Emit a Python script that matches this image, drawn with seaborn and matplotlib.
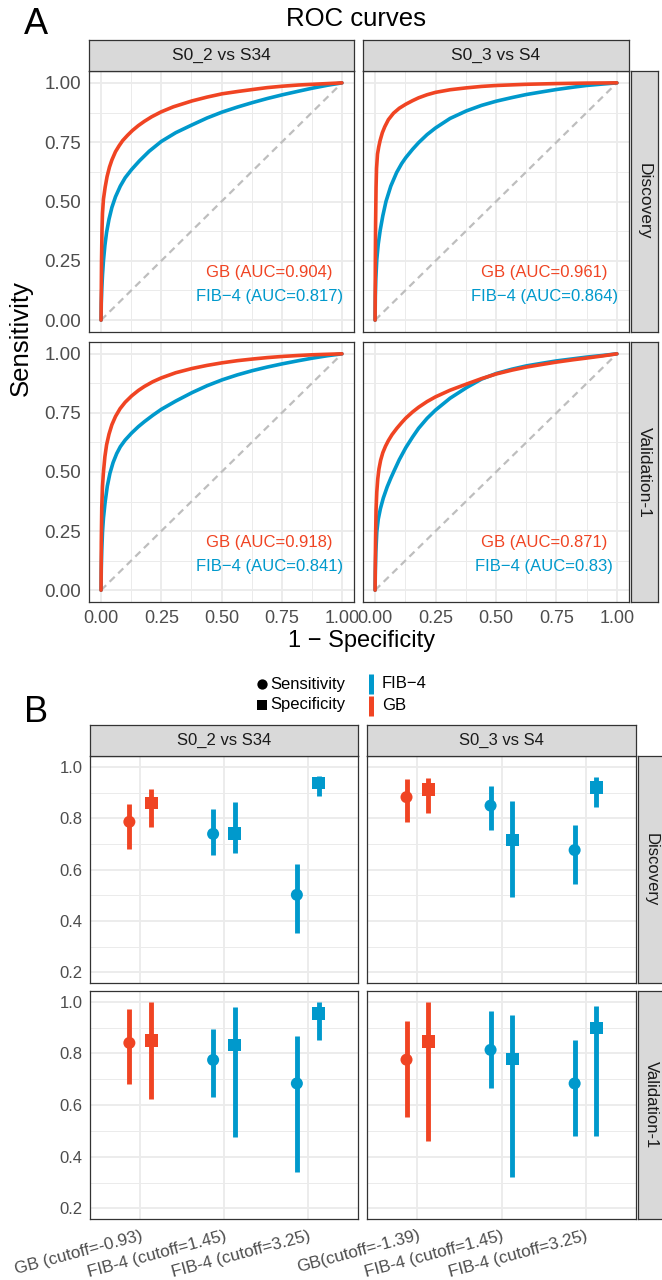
import numpy as np
import pandas as pd
import matplotlib
matplotlib.use("Agg")
import matplotlib.pyplot as plt
import seaborn as sns
from matplotlib.ticker import MultipleLocator, FixedLocator

sns.set_theme(style="white")
plt.rcParams['font.family'] = ['Liberation Sans', 'DejaVu Sans']

W, H = 662, 1280
RED = '#F04423'
BLUE = '#0099CC'
GRID = '#EBEBEB'
DARK = '#333333'
TICKC = '#4D4D4D'
STRIP = '#D9D9D9'

comparisons = ['S0_2 vs S34', 'S0_3 vs S4']
cohorts = ['Discovery', 'Validation-1']

# ---------------- Panel A: ROC curves ----------------
tl_gb_fpr = [0, 0.002, 0.004, 0.006, 0.01, 0.017, 0.025, 0.035, 0.045, 0.06, 0.075, 0.09, 0.11, 0.13, 0.155, 0.18, 0.21, 0.25, 0.3, 0.378, 0.44, 0.503, 0.57, 0.629, 0.69, 0.754, 0.82, 0.879, 0.94, 1.0]
tl_gb_tpr = [0, 0.25, 0.38, 0.45, 0.51, 0.56, 0.605, 0.645, 0.675, 0.71, 0.735, 0.757, 0.779, 0.799, 0.82, 0.838, 0.857, 0.878, 0.899, 0.924, 0.940, 0.954, 0.964, 0.972, 0.980, 0.986, 0.991, 0.994, 0.997, 1.0]
tl_fib_fpr = [0, 0.001, 0.003, 0.006, 0.01, 0.016, 0.023, 0.033, 0.045, 0.06, 0.08, 0.1, 0.127, 0.16, 0.2, 0.25, 0.31, 0.378, 0.44, 0.503, 0.566, 0.629, 0.69, 0.754, 0.82, 0.879, 0.94, 1.0]
tl_fib_tpr = [0, 0.07, 0.13, 0.19, 0.25, 0.315, 0.37, 0.425, 0.475, 0.52, 0.565, 0.60, 0.635, 0.672, 0.712, 0.753, 0.790, 0.823, 0.852, 0.877, 0.898, 0.917, 0.934, 0.950, 0.965, 0.978, 0.990, 1.0]

tr_gb_fpr = [0, 0.001, 0.002, 0.004, 0.006, 0.01, 0.015, 0.021, 0.03, 0.04, 0.055, 0.076, 0.1, 0.127, 0.155, 0.18, 0.215, 0.25, 0.31, 0.378, 0.44, 0.502, 0.626, 0.75, 0.874, 1.0]
tr_gb_tpr = [0, 0.25, 0.40, 0.56, 0.64, 0.70, 0.73, 0.758, 0.79, 0.815, 0.845, 0.872, 0.893, 0.91, 0.925, 0.937, 0.95, 0.96, 0.971, 0.979, 0.985, 0.989, 0.994, 0.997, 0.999, 1.0]
tr_fib_fpr = [0, 0.001, 0.003, 0.007, 0.013, 0.021, 0.032, 0.045, 0.065, 0.089, 0.11, 0.127, 0.155, 0.18, 0.215, 0.25, 0.31, 0.378, 0.44, 0.502, 0.566, 0.626, 0.69, 0.75, 0.82, 0.874, 0.94, 1.0]
tr_fib_tpr = [0, 0.10, 0.175, 0.255, 0.32, 0.378, 0.44, 0.50, 0.565, 0.622, 0.66, 0.685, 0.72, 0.748, 0.782, 0.81, 0.85, 0.882, 0.905, 0.923, 0.938, 0.951, 0.962, 0.972, 0.982, 0.989, 0.995, 1.0]

bl_gb_fpr = [0, 0.001, 0.003, 0.006, 0.01, 0.016, 0.023, 0.033, 0.045, 0.06, 0.079, 0.1, 0.127, 0.155, 0.18, 0.215, 0.25, 0.31, 0.378, 0.44, 0.503, 0.566, 0.629, 0.69, 0.754, 0.82, 0.879, 0.94, 1.0]
bl_gb_tpr = [0, 0.20, 0.35, 0.44, 0.50, 0.565, 0.615, 0.66, 0.70, 0.735, 0.768, 0.795, 0.822, 0.845, 0.862, 0.882, 0.898, 0.92, 0.938, 0.951, 0.962, 0.971, 0.978, 0.984, 0.989, 0.993, 0.996, 0.998, 1.0]
bl_fib_fpr = [0, 0.001, 0.003, 0.006, 0.01, 0.017, 0.026, 0.037, 0.05, 0.065, 0.08, 0.1, 0.127, 0.155, 0.18, 0.215, 0.25, 0.31, 0.378, 0.44, 0.503, 0.566, 0.629, 0.69, 0.754, 0.82, 0.879, 0.94, 1.0]
bl_fib_tpr = [0, 0.09, 0.17, 0.245, 0.305, 0.373, 0.44, 0.495, 0.54, 0.578, 0.607, 0.635, 0.665, 0.692, 0.713, 0.74, 0.765, 0.80, 0.836, 0.865, 0.89, 0.911, 0.929, 0.944, 0.958, 0.971, 0.982, 0.992, 1.0]

br_gb_fpr = [0, 0.001, 0.002, 0.004, 0.007, 0.011, 0.016, 0.023, 0.032, 0.043, 0.055, 0.07, 0.09, 0.11, 0.127, 0.155, 0.18, 0.215, 0.25, 0.31, 0.378, 0.44, 0.502, 0.566, 0.626, 0.69, 0.75, 0.82, 0.874, 0.94, 1.0]
br_gb_tpr = [0, 0.13, 0.22, 0.34, 0.415, 0.47, 0.513, 0.55, 0.582, 0.609, 0.633, 0.658, 0.685, 0.709, 0.728, 0.754, 0.774, 0.798, 0.818, 0.846, 0.872, 0.895, 0.915, 0.931, 0.944, 0.955, 0.965, 0.975, 0.982, 0.991, 1.0]
br_fib_fpr = [0, 0.001, 0.003, 0.007, 0.013, 0.022, 0.034, 0.05, 0.065, 0.08, 0.1, 0.127, 0.155, 0.18, 0.215, 0.25, 0.31, 0.378, 0.44, 0.502, 0.566, 0.626, 0.69, 0.75, 0.82, 0.874, 0.94, 1.0]
br_fib_tpr = [0, 0.08, 0.16, 0.246, 0.30, 0.345, 0.39, 0.437, 0.474, 0.508, 0.552, 0.603, 0.648, 0.685, 0.727, 0.762, 0.812, 0.857, 0.893, 0.917, 0.935, 0.949, 0.960, 0.970, 0.979, 0.986, 0.993, 1.0]

auc_gb = [[0.904, 0.961], [0.918, 0.871]]
auc_fib = [[0.817, 0.864], [0.841, 0.83]]
diag = [0.0, 1.0]
roc_ticks = [0.0, 0.25, 0.5, 0.75, 1.0]

# ---------------- Panel B: sensitivity / specificity ----------------
cat_left = ['GB (cutoff=-0.93)', 'FIB-4 (cutoff=1.45)', 'FIB-4 (cutoff=3.25)']
cat_right = ['GB(cutoff=-1.39)', 'FIB-4 (cutoff=1.45)', 'FIB-4 (cutoff=3.25)']
cat_method = ['GB', 'FIB\u22124', 'FIB\u22124']

# Discovery, S0_2 vs S34
d1_sens = [0.786, 0.739, 0.502]; d1_sens_lo = [0.680, 0.658, 0.352]; d1_sens_hi = [0.855, 0.835, 0.622]
d1_spec = [0.859, 0.739, 0.937]; d1_spec_lo = [0.766, 0.665, 0.886]; d1_spec_hi = [0.913, 0.863, 0.964]
# Discovery, S0_3 vs S4
d2_sens = [0.882, 0.849, 0.676]; d2_sens_lo = [0.785, 0.754, 0.544]; d2_sens_hi = [0.952, 0.925, 0.773]
d2_spec = [0.913, 0.715, 0.921]; d2_spec_lo = [0.821, 0.495, 0.845]; d2_spec_hi = [0.956, 0.867, 0.960]
# Validation-1, S0_2 vs S34
v1_sens = [0.841, 0.775, 0.684]; v1_sens_lo = [0.680, 0.631, 0.340]; v1_sens_hi = [0.972, 0.894, 0.867]
v1_spec = [0.851, 0.833, 0.956]; v1_spec_lo = [0.623, 0.476, 0.853]; v1_spec_hi = [1.000, 0.979, 1.000]
# Validation-1, S0_3 vs S4
v2_sens = [0.776, 0.814, 0.684]; v2_sens_lo = [0.553, 0.665, 0.480]; v2_sens_hi = [0.925, 0.964, 0.851]
v2_spec = [0.845, 0.779, 0.899]; v2_spec_lo = [0.460, 0.320, 0.480]; v2_spec_hi = [1.000, 0.948, 0.983]

b_ticks = [0.2, 0.4, 0.6, 0.8, 1.0]

palette = {'GB': RED, 'FIB\u22124': BLUE}

fig = plt.figure(figsize=(W / 100, H / 100), dpi=100)


def place(l, t, r, b, **kw):
    return fig.add_axes([l / W, 1 - b / H, (r - l) / W, (b - t) / H], **kw)


def style_axes(ax, lw=0.9):
    ax.set_facecolor('white')
    for s in ax.spines.values():
        s.set_color(DARK)
        s.set_linewidth(lw)
        s.set_visible(True)
    ax.tick_params(which='major', length=3.5, width=0.9, color=DARK, labelcolor=TICKC, pad=2)
    ax.tick_params(which='minor', length=0)
    ax.grid(which='major', color=GRID, linewidth=1.3, zorder=0)
    ax.grid(which='minor', color=GRID, linewidth=0.7, zorder=0)
    ax.set_axisbelow(True)
    ax.set_xlabel('')
    ax.set_ylabel('')


def strip(l, t, r, b, text, rot=0, size=12):
    sa = place(l, t, r, b)
    sa.set_facecolor(STRIP)
    sa.set_xticks([]); sa.set_yticks([])
    for s in sa.spines.values():
        s.set_color(DARK); s.set_linewidth(0.9); s.set_visible(True)
    sa.text(0.5, 0.5, text, rotation=rot, ha='center', va='center',
            fontsize=size, color='#1A1A1A', transform=sa.transAxes)
    return sa


# ---------------- Panel A layout ----------------
colsA = [(89, 354), (363, 629)]
rowsA = [(71, 332), (342, 602)]
roc_data = [[(tl_gb_fpr, tl_gb_tpr, tl_fib_fpr, tl_fib_tpr), (tr_gb_fpr, tr_gb_tpr, tr_fib_fpr, tr_fib_tpr)],
            [(bl_gb_fpr, bl_gb_tpr, bl_fib_fpr, bl_fib_tpr), (br_gb_fpr, br_gb_tpr, br_fib_fpr, br_fib_tpr)]]

for i, (t, b) in enumerate(rowsA):
    for j, (l, r) in enumerate(colsA):
        ax = place(l, t, r, b)
        gf, gt, ff, ft = roc_data[i][j]
        df = pd.concat([
            pd.DataFrame({'fpr': ff, 'tpr': ft, 'method': 'FIB\u22124'}),
            pd.DataFrame({'fpr': gf, 'tpr': gt, 'method': 'GB'}),
        ], ignore_index=True)
        ax.plot(diag, diag, linestyle=(0, (3.2, 2.2)), color='#BEBEBE', linewidth=1.6, zorder=1)
        sns.lineplot(data=df, x='fpr', y='tpr', hue='method', palette=palette,
                     hue_order=['FIB\u22124', 'GB'], sort=False, estimator=None,
                     linewidth=2.6, legend=False, ax=ax, zorder=3,
                     solid_joinstyle='round', solid_capstyle='round')
        ax.set_xlim(-0.05, 1.05)
        ax.set_ylim(-0.05, 1.05)
        ax.xaxis.set_major_locator(FixedLocator(roc_ticks))
        ax.yaxis.set_major_locator(FixedLocator(roc_ticks))
        ax.xaxis.set_minor_locator(MultipleLocator(0.125))
        ax.yaxis.set_minor_locator(MultipleLocator(0.125))
        style_axes(ax)
        ax.tick_params(labelsize=13.5)
        if i == 0:
            ax.tick_params(axis='x', labelbottom=False, length=0)
        else:
            ax.set_xticklabels(['0.00', '0.25', '0.50', '0.75', '1.00'], fontsize=13)
        if j == 1:
            ax.tick_params(axis='y', labelleft=False, length=0)
        else:
            ax.set_yticklabels(['0.00', '0.25', '0.50', '0.75', '1.00'])
        ax.text(0.70, 0.2, f"GB (AUC={auc_gb[i][j]:g})", color=RED, fontsize=12,
                ha='center', va='center', zorder=5)
        ax.text(0.70, 0.1, f"FIB\u22124 (AUC={auc_fib[i][j]:g})", color=BLUE, fontsize=12,
                ha='center', va='center', zorder=5)

for j, (l, r) in enumerate(colsA):
    strip(l, 40, r, 71, comparisons[j], size=12.5)
for i, (t, b) in enumerate(rowsA):
    strip(631, t, 658, b, cohorts[i], rot=-90, size=12.5)

# ---------------- Panel B layout ----------------
colsB = [(90, 358), (367, 636)]
rowsB = [(756, 983), (991, 1219)]
b_data = [[(d1_sens, d1_sens_lo, d1_sens_hi, d1_spec, d1_spec_lo, d1_spec_hi),
           (d2_sens, d2_sens_lo, d2_sens_hi, d2_spec, d2_spec_lo, d2_spec_hi)],
          [(v1_sens, v1_sens_lo, v1_sens_hi, v1_spec, v1_spec_lo, v1_spec_hi),
           (v2_sens, v2_sens_lo, v2_sens_hi, v2_spec, v2_spec_lo, v2_spec_hi)]]
dodge = {'Sensitivity': -0.13, 'Specificity': 0.13}

for i, (t, b) in enumerate(rowsB):
    for j, (l, r) in enumerate(colsB):
        ax = place(l, t, r, b)
        se, sl, sh, pe, pl, ph = b_data[i][j]
        cats = cat_left if j == 0 else cat_right
        rows = []
        for k in range(len(cats)):
            rows.append(dict(cat=k, measure='Sensitivity', est=se[k], lo=sl[k], hi=sh[k], method=cat_method[k]))
            rows.append(dict(cat=k, measure='Specificity', est=pe[k], lo=pl[k], hi=ph[k], method=cat_method[k]))
        df = pd.DataFrame(rows)
        df['x'] = df['cat'] + df['measure'].map(dodge)
        ax.vlines(df['x'], df['lo'], df['hi'], colors=df['method'].map(palette),
                  linewidth=3.5, zorder=3)
        sns.scatterplot(data=df, x='x', y='est', hue='method', palette=palette,
                        style='measure', markers={'Sensitivity': 'o', 'Specificity': 's'},
                        size='measure', sizes={'Sensitivity': 75, 'Specificity': 85},
                        linewidth=0, legend=False, ax=ax, zorder=4)
        ax.set_xlim(-0.6, 2.6)
        ax.set_ylim(0.159, 1.042)
        ax.xaxis.set_major_locator(FixedLocator([0, 1, 2]))
        ax.yaxis.set_major_locator(FixedLocator(b_ticks))
        ax.yaxis.set_minor_locator(FixedLocator([0.3, 0.5, 0.7, 0.9]))
        style_axes(ax)
        ax.tick_params(labelsize=12)
        if i == 0:
            ax.tick_params(axis='x', labelbottom=False, length=0)
        else:
            ax.set_xticklabels(cats, rotation=15, ha='right', va='top',
                               rotation_mode='anchor', fontsize=12.3, color=TICKC)
            ax.tick_params(axis='x', pad=3)
        if j == 1:
            ax.tick_params(axis='y', labelleft=False, length=0)
        else:
            ax.set_yticklabels(['0.2', '0.4', '0.6', '0.8', '1.0'])

for j, (l, r) in enumerate(colsB):
    strip(l, 725, r, 756, comparisons[j], size=12)
for i, (t, b) in enumerate(rowsB):
    strip(638, t, 664, b, cohorts[i], rot=-90, size=12)

# ---------------- Titles, labels and legend ----------------
fig.text(356 / W, 1 - 19 / H, 'ROC curves', ha='center', va='center', fontsize=18.5, color='black')
fig.text(36 / W, 1 - 25 / H, 'A', ha='center', va='center', fontsize=26, color='black')
fig.text(36 / W, 1 - 713 / H, 'B', ha='center', va='center', fontsize=26, color='black')
fig.text(362 / W, 1 - 641 / H, '1 \u2212 Specificity', ha='center', va='center', fontsize=17, color='black')
fig.text(21 / W, 1 - 338 / H, 'Sensitivity', ha='center', va='center', rotation=90, fontsize=18.5, color='black')

ov = fig.add_axes([0, 0, 1, 1])
ov.set_xlim(0, W)
ov.set_ylim(H, 0)
ov.axis('off')
ov.scatter([262], [684], marker='o', s=55, color='black', linewidth=0)
ov.scatter([262], [705], marker='s', s=60, color='black', linewidth=0)
ov.text(270, 684, 'Sensitivity', ha='left', va='center', fontsize=12, color='black')
ov.text(270, 705, 'Specificity', ha='left', va='center', fontsize=12, color='black')
ov.plot([371, 371], [674, 694], color=BLUE, linewidth=3.6, solid_capstyle='butt')
ov.plot([371, 371], [696, 716], color=RED, linewidth=3.6, solid_capstyle='butt')
ov.text(382, 684, 'FIB\u22124', ha='left', va='center', fontsize=12, color='black')
ov.text(382, 705, 'GB', ha='left', va='center', fontsize=12, color='black')

fig.savefig('out.png', dpi=100, facecolor='white')
